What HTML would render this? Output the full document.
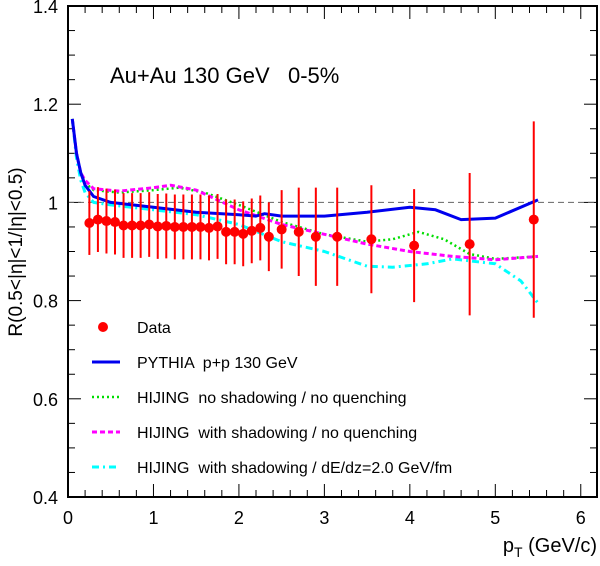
<!DOCTYPE html>
<html><head><meta charset="utf-8"><style>
body{margin:0;background:#fff}
svg text{font-family:"Liberation Sans",sans-serif;white-space:pre}
</style></head><body>
<svg id="chart" width="600" height="561" xmlns="http://www.w3.org/2000/svg"></svg>
<script>
const ptData=[0.25,0.35,0.45,0.55,0.65,0.75,0.85,0.95,1.05,1.15,1.25,1.35,1.45,1.55,1.65,1.75,1.85,1.95,2.05,2.15,2.25,2.35,2.5,2.7,2.9,3.15,3.55,4.05,4.7,5.45];
const rData=[0.958,0.965,0.962,0.96,0.953,0.953,0.953,0.955,0.951,0.952,0.95,0.95,0.95,0.95,0.948,0.951,0.94,0.94,0.936,0.942,0.948,0.93,0.945,0.94,0.93,0.93,0.925,0.912,0.915,0.965];
const errData=[0.065,0.066,0.066,0.066,0.066,0.066,0.066,0.066,0.066,0.066,0.066,0.066,0.066,0.066,0.066,0.066,0.066,0.066,0.066,0.066,0.066,0.07,0.08,0.09,0.1,0.1,0.11,0.115,0.145,0.2];
const pythiaX=[0.05,0.1,0.15,0.2,0.3,0.5,1,1.5,2,2.2,2.3,2.5,3,3.5,4,4.3,4.6,5,5.5];
const pythiaY=[1.17,1.1,1.06,1.035,1.012,1.0,0.99,0.98,0.975,0.972,0.977,0.972,0.972,0.98,0.99,0.985,0.965,0.968,1.005];
const greenX=[0.05,0.1,0.15,0.2,0.3,0.6,1,1.3,1.6,2,2.5,3,3.5,3.8,4.1,4.4,4.7,5,5.5];
const greenY=[1.17,1.1,1.06,1.04,1.025,1.02,1.025,1.03,1.02,0.995,0.96,0.935,0.92,0.925,0.94,0.925,0.895,0.885,0.89];
const magX=[0.05,0.1,0.15,0.2,0.3,0.6,1,1.2,1.5,2,2.5,3,3.5,4,4.5,5,5.5];
const magY=[1.17,1.1,1.06,1.045,1.028,1.023,1.03,1.035,1.025,0.985,0.955,0.935,0.915,0.9,0.89,0.883,0.89];
const cyanX=[0.05,0.1,0.15,0.2,0.3,0.5,1,1.5,2,2.5,3,3.5,3.8,4.2,4.5,5,5.3,5.5];
const cyanY=[1.17,1.09,1.045,1.02,1.0,0.995,0.985,0.975,0.955,0.92,0.9,0.87,0.868,0.875,0.885,0.875,0.84,0.795];
const xTicks=[0,1,2,3,4,5,6];
const yTicks=[0.4,0.6,0.8,1,1.2,1.4];

const L=68,R=597,T=6,B=497,XMAX=6.19;
const sx=v=>L+v*(R-L)/XMAX, sy=v=>B-(v-0.4)*(B-T)/1.0;
const svg=document.getElementById('chart');
const NS='http://www.w3.org/2000/svg';
function mk(tag,attrs,parent){const e=document.createElementNS(NS,tag);for(const k in attrs)e.setAttribute(k,attrs[k]);(parent||svg).appendChild(e);return e;}

const tg=mk('g',{stroke:'#000','stroke-width':1});


for(let v=0;v<=6.1;v+=0.2){const x=sx(v);const big=Math.abs(v-Math.round(v))<1e-6;const l=big?13:7;
 mk('line',{x1:x,y1:B,x2:x,y2:B-l},tg);mk('line',{x1:x,y1:T,x2:x,y2:T+l},tg);}
for(let v=0.4;v<=1.401;v+=0.05){const y=sy(v);const big=Math.abs(v*5-Math.round(v*5))<1e-6;const l=big?13:7;
 mk('line',{x1:L,y1:y,x2:L+l,y2:y},tg);mk('line',{x1:R,y1:y,x2:R-l,y2:y},tg);}
xTicks.forEach(v=>{const t=mk('text',{x:sx(v),y:B+27,'text-anchor':'middle','font-size':18});t.textContent=v;
 });
yTicks.forEach(v=>{const t=mk('text',{x:L-10,y:sy(v)+7,'text-anchor':'end','font-size':18});t.textContent=(v===1?'1':v.toFixed(1));
 });

const ref=mk('line',{x1:L,x2:R,y1:sy(1),y2:sy(1),stroke:'#666','stroke-dasharray':'6,4','stroke-width':1});



function curve(xs,ys,color,dash,w,name){const p=xs.map((x,i)=>(i?'L':'M')+sx(x).toFixed(1)+','+sy(ys[i]).toFixed(1)).join('');
 const e=mk('path',{d:p,fill:'none',stroke:color,'stroke-width':w,'stroke-dasharray':dash,'stroke-linejoin':'round'});
 }
curve(cyanX,cyanY,'#00ffff','7,4,2,4',3,'hijing-quench-curve');
curve(greenX,greenY,'#00dd00','2,3',2.5,'hijing-noshadow-curve');
curve(magX,magY,'#ff00ff','5,3',3,'hijing-shadow-curve');
curve(pythiaX,pythiaY,'#0000ee','',3,'pythia-curve');

ptData.forEach((x,i)=>{const g=mk('g',{});
 
 mk('line',{x1:sx(x),x2:sx(x),y1:sy(rData[i]-errData[i]),y2:sy(rData[i]+errData[i]),stroke:'#ff0000','stroke-width':2},g);
 mk('circle',{cx:sx(x),cy:sy(rData[i]),r:5,fill:'#ff0000'},g);});

const fr=mk('rect',{x:L,y:T,width:R-L,height:B-T,fill:'none',stroke:'#000','stroke-width':2});

</script>
<svg width="600" height="561" style="position:absolute;left:0;top:0" xmlns="http://www.w3.org/2000/svg">
<text x="110" y="83" font-size="22">Au+Au 130 GeV   0-5%</text>
<text transform="translate(22,252) rotate(-90)" text-anchor="middle" font-size="19">R(0.5&lt;|η|&lt;1/|η|&lt;0.5)</text>
<text x="597" y="552" text-anchor="end" font-size="20">p<tspan font-size="14" dy="5">T</tspan><tspan dy="-5"> (GeV/c)</tspan></text>
<g font-size="16">
<g><circle cx="103" cy="327" r="5" fill="#ff0000"/><text x="137" y="333">Data</text></g>
<g><line x1="92" x2="120" y1="362" y2="362" stroke="#0000ee" stroke-width="3"/><text x="137" y="368">PYTHIA  p+p 130 GeV</text></g>
<g><line x1="92" x2="120" y1="397" y2="397" stroke="#00dd00" stroke-width="2.5" stroke-dasharray="2,3"/><text x="137" y="403">HIJING  no shadowing / no quenching</text></g>
<g><line x1="92" x2="120" y1="432" y2="432" stroke="#ff00ff" stroke-width="3" stroke-dasharray="5,3"/><text x="137" y="438">HIJING  with shadowing / no quenching</text></g>
<g><line x1="92" x2="120" y1="467" y2="467" stroke="#00ffff" stroke-width="3" stroke-dasharray="7,4,2,4"/><text x="137" y="473">HIJING  with shadowing / dE/dz=2.0 GeV/fm</text></g>
</g>
</svg>
</body></html>
